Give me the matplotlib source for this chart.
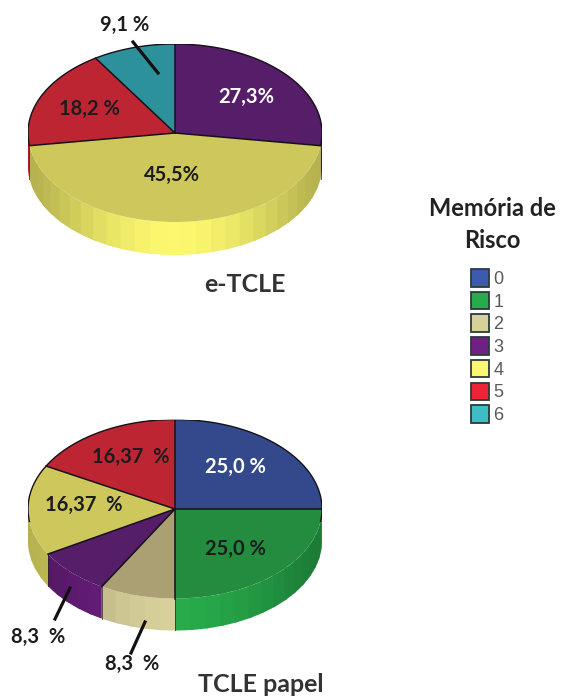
import numpy as np
import matplotlib
matplotlib.use('Agg')
import matplotlib.pyplot as plt
from matplotlib.patches import Patch

W, H = 564, 700

levels = ['0', '1', '2', '3', '4', '5', '6']
legend_colors = ['#3c5bb0', '#27ab4b', '#d8d09a', '#6f2085', '#fbf76e', '#ec2434', '#3dbdc4']

etcle_values = [27.3, 45.5, 18.2, 9.1]
etcle_levels = [3, 4, 5, 6]
etcle_labels = ['27,3%', '45,5%', '18,2 %', '9,1 %']

papel_values = [25.0, 25.0, 8.3, 8.3, 16.37, 16.37]
papel_levels = [0, 1, 2, 3, 4, 5]
papel_labels = ['25,0 %', '25,0 %', '8,3  %', '8,3  %', '16,37  %', '16,37  %']

top_colors = {0: '#33498c', 1: '#238c3e', 2: '#aaa073', 3: '#561d69',
              4: '#cdc75c', 5: '#be2533', 6: '#2c919b'}


def wall_color(hex_color, theta):
    # brightest facing the viewer, darker towards both ends of the rim
    rgb = np.array(matplotlib.colors.to_rgb(hex_color))
    f = 0.72 + 0.28 * np.abs(np.sin(np.radians(theta))) ** 3
    return tuple(rgb * f)


def pie_3d(values, slices, cx, cy, rx=147, ry=89, depth=33):
    depth = depth / ry
    ax = fig.add_axes([(cx - rx) / W, 1 - (cy + ry + depth * ry) / H,
                       2 * rx / W, (2 * ry + depth * ry) / H])
    shares = np.array(values) / 100
    wedges, _ = ax.pie(shares, colors=[top_colors[s] for s in slices],
                       startangle=90, counterclock=False, radius=1,
                       normalize=shares.sum() > 1,
                       wedgeprops={'linewidth': 0, 'zorder': 3})
    # shares can round to a little under 100 %, the last slice closes the circle
    wedges[-1].set_theta1(90)
    ax.set_aspect('auto')
    ax.set_xlim(-1, 1)
    ax.set_ylim(-1 - depth, 1)

    # side wall in 6 degree bands, only the front half of the rim shows
    for w, s in zip(wedges, slices):
        t1, t2 = w.theta1 % 360, w.theta2 % 360
        if t2 <= t1:
            t2 += 360
        for off in (0, 360):
            a, b = max(t1, 180 + off), min(t2, 360 + off)
            if a >= b:
                continue
            edges = np.append(np.arange(a, b, 6.0), b)
            for e1, e2 in zip(edges[:-1], edges[1:]):
                # each band runs a bit under the next one so no seam shows
                th = np.radians(np.linspace(e1, min(e2 + 1.5, b), 6))
                xs = np.cos(th)
                ys = np.sin(th)
                c = wall_color(legend_colors[s], (e1 + e2) / 2)
                ax.fill(np.r_[xs, xs[::-1]], np.r_[ys, ys[::-1] - depth],
                        color=c, lw=0, zorder=1)

    # slice borders on the face and down the wall
    for w in wedges:
        th = np.radians(w.theta1)
        x, y = np.cos(th), np.sin(th)
        ax.plot([0, x], [0, y], color='#15101a', lw=1.1, zorder=4)
        if y < 0:
            ax.plot([x, x], [y, y - depth], color='#2a2520', lw=0.7, alpha=0.7, zorder=2)
    th = np.radians(np.linspace(-8, 188, 200))
    ax.plot(np.cos(th), np.sin(th), color='#15101a', lw=1.0, zorder=4)
    ax.axis('off')
    return ax


fig = plt.figure(figsize=(W / 100, H / 100), dpi=100, facecolor='white')

pie_3d(etcle_values, etcle_levels, 175, 133)
pie_3d(papel_values, papel_levels, 175, 509, ry=89.5, depth=32)

# overlay in pixel units for the labels, leader lines and legend
ov = fig.add_axes([0, 0, 1, 1], zorder=10)
ov.set_xlim(0, W)
ov.set_ylim(H, 0)
ov.axis('off')
ov.patch.set_alpha(0)

label_font = {'family': 'Lato', 'fontweight': 'bold', 'ha': 'center', 'va': 'center'}
dark = '#1c1c1c'

for txt, x, y, c in zip(etcle_labels, [246, 172, 89, 125], [97, 175, 109, 25],
                        ['white', dark, dark, dark]):
    ov.text(x, y, txt, fontsize=14.5, color=c, **label_font)
for txt, x, y, c in zip(papel_labels, [235, 235, 132, 38, 84, 131],
                        [467, 549, 664, 637, 505, 457],
                        ['white', dark, dark, dark, dark, dark]):
    ov.text(x, y, txt, fontsize=14.5, color=c, **label_font)

ov.text(245, 284, 'e-TCLE', fontsize=18, color='#333333', **label_font)
ov.text(261, 685, 'TCLE papel', fontsize=18, color='#333333', **label_font)
ov.text(492, 209, 'Memória de', fontsize=17, color='#222222', **label_font)
ov.text(492, 241, 'Risco', fontsize=17, color='#222222', **label_font)

ov.plot([133, 158], [42, 73], color='#111111', lw=2.3)
ov.plot([70, 55], [588, 619], color='#111111', lw=2.3)
ov.plot([145, 131], [622, 653], color='#111111', lw=2.3)

handles = [Patch(facecolor=c, edgecolor='#2b3a3a', lw=1.3) for c in legend_colors]
leg = ov.legend(handles, levels, loc='upper left', bbox_to_anchor=(471 / W, 1 - 269 / H),
                bbox_transform=fig.transFigure, frameon=False, borderpad=0, borderaxespad=0,
                handlelength=1.0, handleheight=1.12, handletextpad=0.25, labelspacing=0.21,
                prop={'family': 'Liberation Sans', 'size': 13})
for t in leg.get_texts():
    t.set_color('#5a5a5a')

fig.savefig('out.png', dpi=100)
